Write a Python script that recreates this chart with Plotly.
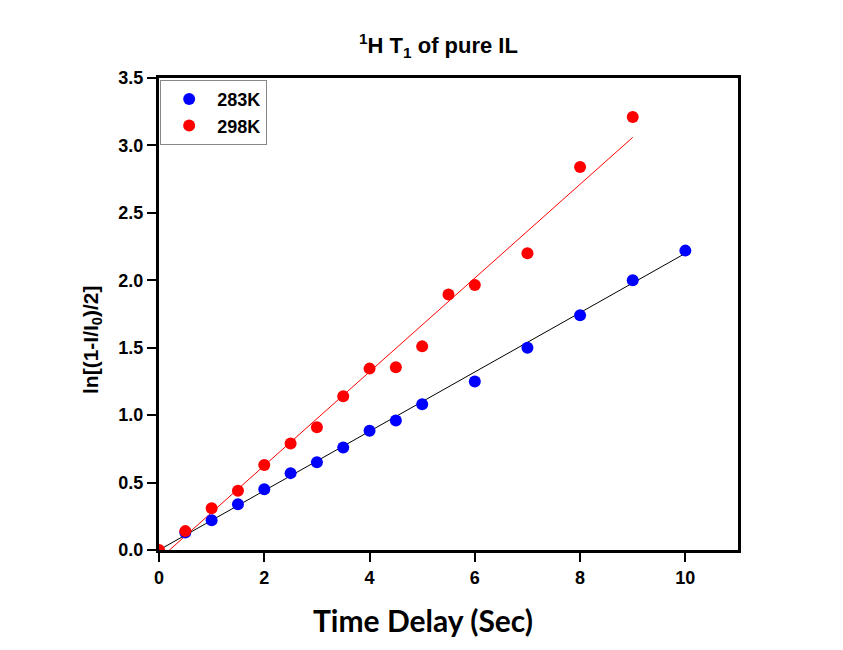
import plotly.graph_objects as go
import numpy as np

# Data
x_283 = [0.5, 1, 1.5, 2, 2.5, 3, 3.5, 4, 4.5, 5, 6, 7, 8, 9, 10]
y_283 = [0.13, 0.22, 0.34, 0.45, 0.57, 0.65, 0.76, 0.885, 0.96, 1.08, 1.25, 1.50, 1.74, 2.00, 2.22]

x_298 = [0, 0.5, 1, 1.5, 2, 2.5, 3, 3.5, 4, 4.5, 5, 5.5, 6, 7, 8, 9]
y_298 = [0.0, 0.14, 0.31, 0.44, 0.63, 0.79, 0.91, 1.14, 1.345, 1.355, 1.51, 1.895, 1.965, 2.20, 2.84, 3.21]

# Linear fit parameters
fit_283_slope, fit_283_intercept, fit_283_range = 0.22, 0.0, [0, 10]
fit_298_slope, fit_298_intercept, fit_298_range = 0.3477, -0.0695, [0, 9]

fig = go.Figure()

fx = np.array(fit_283_range)
fig.add_trace(go.Scatter(x=fx, y=fit_283_slope * fx + fit_283_intercept, mode="lines",
                         line=dict(color="black", width=1), showlegend=False, hoverinfo="skip"))
fx2 = np.array(fit_298_range)
fig.add_trace(go.Scatter(x=fx2, y=fit_298_slope * fx2 + fit_298_intercept, mode="lines",
                         line=dict(color="red", width=1), showlegend=False, hoverinfo="skip"))

fig.add_trace(go.Scatter(x=x_283, y=y_283, mode="markers", name="283K",
                         marker=dict(color="#0000ff", size=12)))
fig.add_trace(go.Scatter(x=x_298, y=y_298, mode="markers", name="298K",
                         marker=dict(color="#ff0000", size=12)))

tickfont = dict(family="Liberation Sans, Arial", size=18, color="black", weight="bold")

PL, PR, PT, PB = 159, 738, 78, 550  # target plot-area pixels in the screenshot
PW, PH = PR - PL, PB - PT

fig.update_layout(
    width=843, height=650,
    margin=dict(l=PL - 8, r=851 - PR, t=PT - 8, b=658 - PB),
    paper_bgcolor="white", plot_bgcolor="white",
    showlegend=True,
    legend=dict(x=0.002, y=0.996, xanchor="left", yanchor="top",
                bordercolor="#888888", borderwidth=1, bgcolor="white",
                font=dict(family="Liberation Sans, Arial", size=18, color="black", weight="bold"),
                itemwidth=46, tracegroupgap=0),
    xaxis=dict(range=[0, 11], tickmode="array", tickvals=[0, 2, 4, 6, 8, 10],
               ticks="outside", ticklen=9, tickwidth=2, tickcolor="black",
               showline=True, linewidth=3, linecolor="black", mirror=True,
               showgrid=False, zeroline=False, tickfont=tickfont),
    yaxis=dict(range=[0, 3.5], tickmode="array",
               tickvals=[0, 0.5, 1.0, 1.5, 2.0, 2.5, 3.0, 3.5],
               ticktext=["0.0", "0.5", "1.0", "1.5", "2.0", "2.5", "3.0", "3.5"],
               ticks="outside", ticklen=9, tickwidth=2, tickcolor="black",
               showline=True, linewidth=3, linecolor="black", mirror=True,
               showgrid=False, zeroline=False, tickfont=tickfont),
    annotations=[
        dict(text="<b><sup>1</sup>H T<sub>1</sub> of pure IL</b>", xref="paper", yref="paper",
             x=(438 - PL) / PW, y=1 + (PT - 46) / PH, xanchor="center", yanchor="middle",
             showarrow=False, font=dict(family="Liberation Sans, Arial", size=22, color="black")),
        dict(text="<b>ln[(1-I/I<sub>0</sub>)/2]</b>", xref="paper", yref="paper",
             x=-(PL - 92) / PW, y=(PB - 340) / PH, xanchor="center", yanchor="middle",
             textangle=-90, showarrow=False,
             font=dict(family="Liberation Sans, Arial", size=21, color="black")),
        dict(text="<b>Time Delay (Sec)</b>", xref="paper", yref="paper",
             x=(423 - PL) / PW, y=-(620 - PB) / PH, xanchor="center", yanchor="middle",
             showarrow=False, font=dict(family="Lato, Open Sans", size=30, color="black")),
    ],
)

fig.write_html("out.html")
